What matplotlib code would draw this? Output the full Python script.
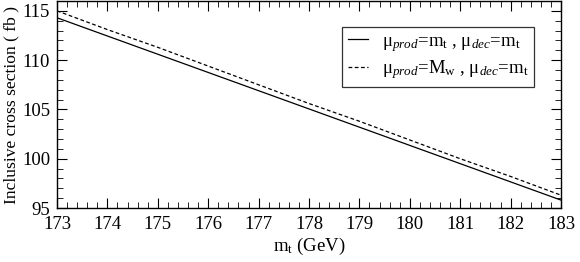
import matplotlib
matplotlib.use("Agg")
from matplotlib import pyplot as plt
from matplotlib.ticker import MultipleLocator

plt.rcParams['font.family'] = ['Liberation Serif', 'DejaVu Serif']
plt.rcParams['mathtext.fontset'] = 'custom'
plt.rcParams['mathtext.rm'] = 'Liberation Serif'
plt.rcParams['mathtext.it'] = 'Liberation Serif:italic'

# Values
mt = [173, 174, 175, 176, 177, 178, 179, 180, 181, 182, 183]
xs_mt = [114.3, 112.45, 110.6, 108.75, 106.9, 105.05, 103.2, 101.35, 99.5, 97.65, 95.8]
xs_mw = [115.0, 113.1, 111.3, 109.4, 107.5, 105.6, 103.8, 101.9, 100.0, 98.2, 96.3]

fig = plt.figure(figsize=(5.8, 2.62), dpi=100)
ax = fig.add_axes([57/580, 1 - 208/262, (561-57)/580, (208-1)/262])

ax.plot(mt, xs_mt, 'k-', lw=0.9,
        label=r'μ$_{\mathit{prod}}$=m$_\mathrm{t}$ , μ$_{\mathit{dec}}$=m$_\mathrm{t}$')
ax.plot(mt, xs_mw, 'k--', lw=0.9, dashes=(3, 2),
        label=r'μ$_{\mathit{prod}}$=M$_\mathrm{w}$ , μ$_{\mathit{dec}}$=m$_\mathrm{t}$')

ax.set_xlim(173, 183)
ax.set_ylim(95, 116)
ax.xaxis.set_major_locator(MultipleLocator(1))
ax.xaxis.set_minor_locator(MultipleLocator(0.2))
ax.yaxis.set_major_locator(MultipleLocator(5))
ax.yaxis.set_minor_locator(MultipleLocator(1))
ax.tick_params(which='both', direction='in', top=True, right=True, labelsize=13.5)
ax.tick_params(axis='x', pad=6)
ax.tick_params(axis='y', pad=5)
ax.tick_params(which='major', length=7)
ax.tick_params(which='minor', length=4)
for s in ax.spines.values():
    s.set_linewidth(1.0)

ax.set_xlabel(r'm$_\mathrm{t}$ (GeV)', fontsize=13.5, labelpad=2)
ax.set_ylabel('Inclusive cross section ( fb )', fontsize=12.6)
ax.yaxis.set_label_coords(-38/504, 0.5)

leg = ax.legend(loc='upper right', bbox_to_anchor=(0.946, 0.874), fontsize=13.5,
                frameon=True, fancybox=False, edgecolor='black',
                handlelength=1.1, handletextpad=0.7, borderpad=0.3,
                labelspacing=0.25, borderaxespad=0)
leg.get_frame().set_linewidth(0.9)

fig.savefig('out.png', dpi=100)
